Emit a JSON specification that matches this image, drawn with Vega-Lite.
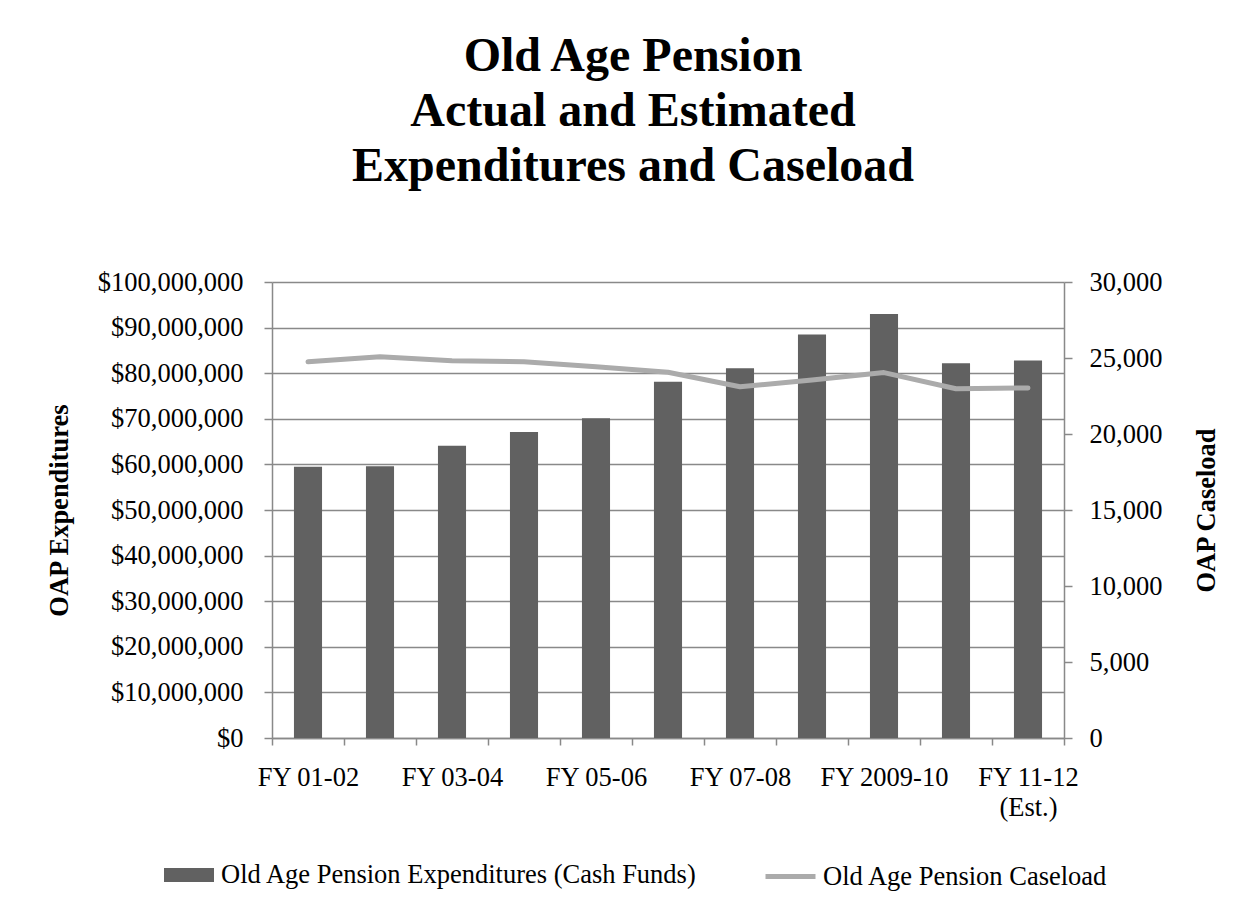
{
  "$schema": "https://vega.github.io/schema/vega-lite/v6.json",
  "width": 792,
  "height": 456,
  "autosize": {"type": "none"},
  "padding": {"left": 272, "top": 282, "right": 189, "bottom": 171},
  "background": "white",
  "title": {
    "text": ["Old Age Pension", "Actual and Estimated", "Expenditures and Caseload"],
    "font": "Liberation Serif",
    "fontSize": 48,
    "fontWeight": "bold",
    "color": "black",
    "lineHeight": 55,
    "anchor": "middle",
    "dx": -35,
    "offset": 78
  },
  "data": {
    "values": [
      {"year": "FY 01-02", "expenditures": 59500000, "caseload": 24750},
      {"year": "FY 02-03", "expenditures": 59600000, "caseload": 25080},
      {"year": "FY 03-04", "expenditures": 64100000, "caseload": 24820},
      {"year": "FY 04-05", "expenditures": 67100000, "caseload": 24750},
      {"year": "FY 05-06", "expenditures": 70100000, "caseload": 24430},
      {"year": "FY 06-07", "expenditures": 78100000, "caseload": 24060},
      {"year": "FY 07-08", "expenditures": 81100000, "caseload": 23110},
      {"year": "FY 08-09", "expenditures": 88500000, "caseload": 23550},
      {"year": "FY 2009-10", "expenditures": 93000000, "caseload": 24040},
      {"year": "FY 10-11", "expenditures": 82200000, "caseload": 22980},
      {"year": "FY 11-12 (Est.)", "expenditures": 82800000, "caseload": 23030}
    ]
  },
  "encoding": {
    "x": {
      "field": "year",
      "type": "nominal",
      "sort": null,
      "scale": {"paddingInner": 0, "paddingOuter": 0},
      "axis": {
        "title": null,
        "tickBand": "extent",
        "tickSize": 7,
        "tickColor": "#898989",
        "tickWidth": 1.5,
        "domainColor": "#898989",
        "domainWidth": 1.5,
        "labelAngle": 0,
        "labelFont": "Liberation Serif",
        "labelFontSize": 26.5,
        "labelColor": "black",
        "labelPadding": 19,
        "labelBaseline": "top",
        "labelLineHeight": 30,
        "labelOverlap": false,
        "labelBound": false,
        "labelLimit": 0,
        "grid": false,
        "labelExpr": "indexof(['FY 01-02','FY 03-04','FY 05-06','FY 07-08','FY 2009-10'], datum.value) >= 0 ? datum.value : (datum.value == 'FY 11-12 (Est.)' ? ['FY 11-12', '(Est.)'] : '')"
      }
    }
  },
  "layer": [
    {
      "mark": {"type": "bar", "width": {"band": 0.39}},
      "encoding": {
        "y": {
          "field": "expenditures",
          "type": "quantitative",
          "scale": {"domain": [0, 100000000], "nice": false},
          "axis": {
            "title": "OAP Expenditures",
            "orient": "left",
            "values": [0, 10000000, 20000000, 30000000, 40000000, 50000000, 60000000, 70000000, 80000000, 90000000, 100000000],
            "format": "$,.0f",
            "grid": true,
            "gridColor": "#898989",
            "gridWidth": 1.5,
            "tickSize": 8,
            "tickColor": "#898989",
            "tickWidth": 1.5,
            "domainColor": "#898989",
            "domainWidth": 1.5,
            "labelFont": "Liberation Serif",
            "labelFontSize": 26.5,
            "labelColor": "black",
            "labelPadding": 21,
            "labelLimit": 0,
            "labelOverlap": false,
            "titleFont": "Liberation Serif",
            "titleFontSize": 26.5,
            "titleFontWeight": "bold",
            "titleColor": "black",
            "titlePadding": 24
          }
        },
        "fill": {
          "datum": "Old Age Pension Expenditures (Cash Funds)",
          "type": "nominal",
          "scale": {"range": ["#616161"]},
          "legend": {
            "orient": "none",
            "legendX": -108,
            "legendY": 568,
            "title": null,
            "symbolType": "M-1,-0.28H1V0.28H-1Z",
            "symbolSize": 2500,
            "symbolStrokeWidth": 0,
            "symbolOpacity": 1,
            "labelOffset": 7,
            "labelFont": "Liberation Serif",
            "labelFontSize": 26.5,
            "labelColor": "black",
            "labelLimit": 0
          }
        }
      }
    },
    {
      "mark": {"type": "line", "strokeWidth": 5, "strokeCap": "round", "strokeJoin": "round"},
      "encoding": {
        "y": {
          "field": "caseload",
          "type": "quantitative",
          "scale": {"domain": [0, 30000], "nice": false},
          "axis": {
            "title": "OAP Caseload",
            "orient": "right",
            "values": [0, 5000, 10000, 15000, 20000, 25000, 30000],
            "format": ",d",
            "grid": false,
            "tickSize": 8,
            "tickColor": "#898989",
            "tickWidth": 1.5,
            "domainColor": "#898989",
            "domainWidth": 1.5,
            "labelFont": "Liberation Serif",
            "labelFontSize": 26.5,
            "labelColor": "black",
            "labelPadding": 17,
            "labelLimit": 0,
            "labelOverlap": false,
            "titleFont": "Liberation Serif",
            "titleFontSize": 26.5,
            "titleFontWeight": "bold",
            "titleColor": "black",
            "titleAngle": 270,
            "titleBaseline": "top",
            "titlePadding": 32
          }
        },
        "stroke": {
          "datum": "Old Age Pension Caseload",
          "type": "nominal",
          "scale": {"range": ["#ababab"]},
          "legend": {
            "orient": "none",
            "legendX": 491,
            "legendY": 567,
            "title": null,
            "symbolType": "stroke",
            "symbolSize": 2500,
            "symbolStrokeWidth": 5,
            "symbolOpacity": 1,
            "labelOffset": 5,
            "labelFont": "Liberation Serif",
            "labelFontSize": 26.5,
            "labelColor": "black",
            "labelLimit": 0
          }
        }
      }
    }
  ],
  "resolve": {"scale": {"y": "independent"}, "axis": {"y": "independent"}},
  "config": {"view": {"stroke": null}, "font": "Liberation Serif"}
}
